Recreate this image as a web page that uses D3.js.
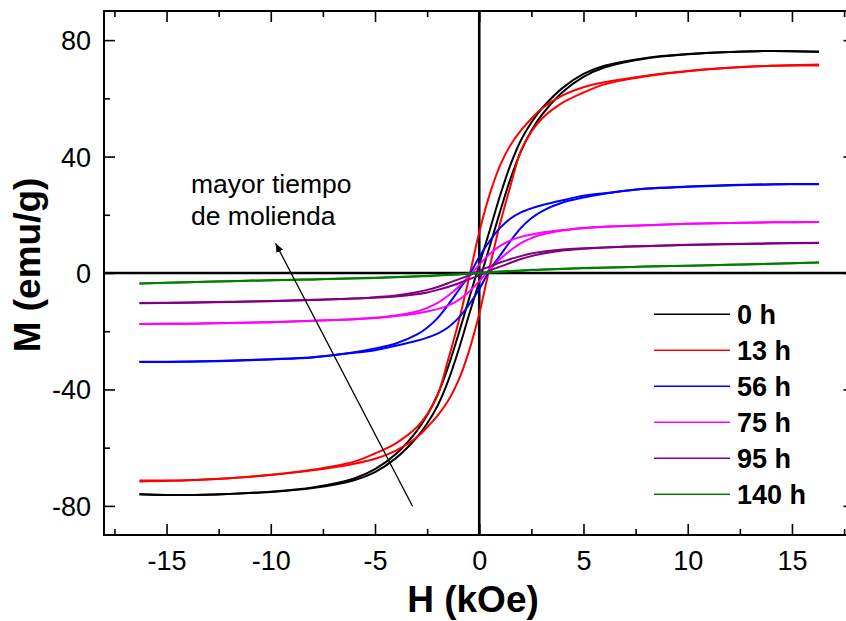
<!DOCTYPE html>
<html><head><meta charset="utf-8">
<script src="https://cdn.jsdelivr.net/npm/d3@7"></script>
<style>
body{margin:0;background:#fff}
svg{display:block}
text{font-family:"Liberation Sans",Arial,Helvetica,sans-serif;fill:#000}
</style>
</head><body>
<svg id="chart" width="846" height="621"></svg>
<script>
// ---------- data ----------
const fieldDesc = [16.3,14,12,10,8,6,5,4,3,2.5,2,1.5,1,0.5,0,-0.5,-1,-1.5,-2,-2.5,-3,-4,-5,-6,-8,-10,-12,-14,-16.3];
const fieldAsc  = [-16.3,-14,-12,-10,-8,-6,-5,-4,-3,-2.5,-2,-1.5,-1,-0.5,0,0.5,1,1.5,2,2.5,3,4,5,6,8,10,12,14,16.3];

const labels = ["0 h","13 h","56 h","75 h","95 h","140 h"];
const colors = ["#000000","#ff0000","#0000ff","#ff00ff","#800080","#008000"];

const m0Desc   = [76.0,76.3,75.9,75.2,73.9,71.2,68.4,63.6,56.5,51.7,45.6,37.2,26.6,14.6,2.9,-9.1,-21.1,-32.4,-41.8,-48.9,-54.3,-62.2,-67.4,-70.6,-73.7,-75.1,-75.9,-76.3,-76.0];
const m0Asc    = [-76.0,-76.3,-75.9,-75.2,-73.9,-71.2,-68.4,-63.6,-56.5,-51.7,-45.6,-37.2,-26.6,-14.6,-2.9,9.1,21.1,32.4,41.8,48.9,54.3,62.2,67.4,70.6,73.7,75.1,75.9,76.3,76.0];
const m13Desc  = [71.3,71.2,70.5,69.4,67.8,65.5,63.8,61,56.5,53,49,44,37,27,14,-2,-17,-30,-42,-48.5,-53,-58.5,-62,-64.8,-67.6,-69.3,-70.5,-71.2,-71.6];
const m13Asc   = [-71.3,-71.2,-70.5,-69.4,-67.8,-65.5,-63.8,-61,-56.5,-53,-49,-44,-37,-27,-14,2,17,30,42,48.5,53,58.5,62,64.8,67.6,69.3,70.5,71.2,71.6];
const m56Desc  = [30.5,30.4,30.1,29.6,28.9,27.4,26.5,25.0,23.3,22.2,20.8,18.7,15.5,11,5.5,-1,-6,-11,-15.5,-18.8,-21.2,-24.2,-25.9,-27.2,-29,-29.7,-30.2,-30.5,-30.6];
const m56Asc   = [-30.5,-30.4,-30.1,-29.6,-28.9,-27.4,-26.5,-25.0,-23.3,-22.2,-20.8,-18.7,-15.5,-11,-5.5,1,6,11,15.5,18.8,21.2,24.2,25.9,27.2,29,29.7,30.2,30.5,30.6];
const m75Desc  = [17.5,17.4,17.2,16.9,16.4,15.9,15.5,14.8,13.9,13.2,12.4,11.2,9.3,6.5,2.8,-1.2,-4.8,-7.8,-10.3,-12,-13.2,-14.6,-15.4,-15.9,-16.4,-16.9,-17.2,-17.4,-17.5];
const m75Asc   = [-17.5,-17.4,-17.2,-16.9,-16.4,-15.9,-15.5,-14.8,-13.9,-13.2,-12.4,-11.2,-9.3,-6.5,-2.8,1.2,4.8,7.8,10.3,12,13.2,14.6,15.4,15.9,16.4,16.9,17.2,17.4,17.5];
const m95Desc  = [10.3,10.1,9.9,9.6,9.2,8.8,8.5,8.1,7.3,6.7,5.8,4.8,3.6,2.2,0.8,-0.8,-2.2,-3.5,-4.8,-5.8,-6.6,-7.7,-8.3,-8.8,-9.3,-9.7,-10,-10.2,-10.4];
const m95Asc   = [-10.3,-10.1,-9.9,-9.6,-9.2,-8.8,-8.5,-8.1,-7.3,-6.7,-5.8,-4.8,-3.6,-2.2,-0.8,0.8,2.2,3.5,4.8,5.8,6.6,7.7,8.3,8.8,9.3,9.7,10,10.2,10.4];
const m140Desc = [3.6,3.2,2.8,2.5,2.2,1.9,1.7,1.5,1.2,1.1,0.9,0.7,0.5,0.3,0.1,-0.2,-0.4,-0.6,-0.8,-1.0,-1.1,-1.4,-1.6,-1.8,-2.2,-2.5,-2.8,-3.2,-3.6];
const m140Asc  = [-3.6,-3.2,-2.8,-2.5,-2.2,-1.9,-1.7,-1.5,-1.2,-1.1,-0.9,-0.7,-0.5,-0.3,-0.1,0.2,0.4,0.6,0.8,1.0,1.1,1.4,1.6,1.8,2.2,2.5,2.8,3.2,3.6];

const descBranches = [m0Desc,m13Desc,m56Desc,m75Desc,m95Desc,m140Desc];
const ascBranches  = [m0Asc,m13Asc,m56Asc,m75Asc,m95Asc,m140Asc];

const xMajorTicks = [-15,-10,-5,0,5,10,15];
const xMinorTicks = [-17.5,-12.5,-7.5,-2.5,2.5,7.5,12.5,17.5];
const yMajorTicks = [-80,-40,0,40,80];
const yMinorTicks = [-60,-20,20,60];

const xTitle = "H (kOe)";
const yTitle = "M (emu/g)";
const noteLines = ["mayor tiempo","de molienda"];

// ---------- chart ----------
const svg = d3.select("#chart");
const x = d3.scaleLinear().domain([-18,18]).range([104,854.5]);
const y = d3.scaleLinear().domain([-90,90]).range([535,11]);
const [x0,x1] = x.range(); const [y0,y1] = y.range();
const fmt = d => String(d);

// zero lines
svg.append("line").attr("x1",x(0)).attr("x2",x(0)).attr("y1",y1).attr("y2",y0)
  .attr("stroke","#000").attr("stroke-width",2.6);
svg.append("line").attr("x1",x0).attr("x2",x1).attr("y1",y(0)).attr("y2",y(0))
  .attr("stroke","#000").attr("stroke-width",2.6);

// curves
const line = d3.line().x(d=>x(d[0])).y(d=>y(d[1])).curve(d3.curveCatmullRom.alpha(0.5));
labels.forEach((lab,i)=>{
  const desc = fieldDesc.map((h,k)=>[h,descBranches[i][k]]);
  const asc  = fieldAsc.map((h,k)=>[h,ascBranches[i][k]]);
  [desc,asc].forEach(pts=>{
    svg.append("path").attr("d",line(pts)).attr("fill","none")
      .attr("stroke",colors[i]).attr("stroke-width",2).attr("stroke-linejoin","round");
  });
});

// frame
svg.append("rect").attr("x",x0).attr("y",y1).attr("width",x1-x0).attr("height",y0-y1)
  .attr("fill","none").attr("stroke","#000").attr("stroke-width",2);

// axes (ticks inward)
const tickFont = 27;
function styleAxis(g){ g.select(".domain").remove(); g.selectAll("line").attr("stroke","#000").attr("stroke-width",1.6); }
const xb = svg.append("g").attr("transform",`translate(0,${y0})`)
  .call(d3.axisBottom(x).tickValues(xMajorTicks).tickSize(-11).tickPadding(0).tickFormat(fmt));
styleAxis(xb);
xb.selectAll("text").attr("font-size",tickFont).attr("dy",null).attr("y",35).attr("text-anchor","middle");
svg.append("g").attr("transform",`translate(0,${y0})`)
  .call(d3.axisBottom(x).tickValues(xMinorTicks).tickSize(-6).tickFormat("")).call(styleAxis);
svg.append("g").attr("transform",`translate(0,${y1})`)
  .call(d3.axisTop(x).tickValues(xMajorTicks).tickSize(-11).tickFormat("")).call(styleAxis);
svg.append("g").attr("transform",`translate(0,${y1})`)
  .call(d3.axisTop(x).tickValues(xMinorTicks).tickSize(-6).tickFormat("")).call(styleAxis);

const yl = svg.append("g").attr("transform",`translate(${x0},0)`)
  .call(d3.axisLeft(y).tickValues(yMajorTicks).tickSize(-11).tickPadding(0).tickFormat(fmt));
styleAxis(yl);
yl.selectAll("text").attr("font-size",tickFont).attr("x",-13).attr("dy","0.35em").attr("text-anchor","end");
svg.append("g").attr("transform",`translate(${x0},0)`)
  .call(d3.axisLeft(y).tickValues(yMinorTicks).tickSize(-6).tickFormat("")).call(styleAxis);
svg.append("g").attr("transform",`translate(${x1},0)`)
  .call(d3.axisRight(y).tickValues(yMajorTicks).tickSize(-11).tickFormat("")).call(styleAxis);
svg.append("g").attr("transform",`translate(${x1},0)`)
  .call(d3.axisRight(y).tickValues(yMinorTicks).tickSize(-6).tickFormat("")).call(styleAxis);

// axis titles
svg.append("text").attr("x",473).attr("y",612).attr("text-anchor","middle")
  .attr("font-size",37).attr("font-weight","bold").text(xTitle);
svg.append("text").attr("transform","translate(40,265) rotate(-90)").attr("text-anchor","middle")
  .attr("font-size",37).attr("font-weight","bold").text(yTitle);

// legend
const leg = svg.append("g");
labels.forEach((lab,i)=>{
  const ly = 314.3 + i*36;
  leg.append("line").attr("x1",654).attr("x2",730).attr("y1",ly).attr("y2",ly)
    .attr("stroke",colors[i]).attr("stroke-width",1.6);
  leg.append("text").attr("x",737).attr("y",ly).attr("dy","0.36em")
    .attr("font-size",27).attr("font-weight","bold").text(lab);
});

// annotation
noteLines.forEach((t,i)=>{
  svg.append("text").attr("x",191).attr("y",193+i*32).attr("font-size",26.5).text(t);
});
svg.append("defs").append("marker").attr("id","ah").attr("viewBox","0 0 10 10")
  .attr("refX",10).attr("refY",5).attr("markerWidth",9).attr("markerHeight",9)
  .attr("markerUnits","userSpaceOnUse").attr("orient","auto")
  .append("path").attr("d","M0,1 L10,5 L0,9 Z").attr("fill","#000");
svg.append("line").attr("x1",x(-3.2)).attr("y1",y(-80.1)).attr("x2",x(-9.77)).attr("y2",y(10.2))
  .attr("stroke","#000").attr("stroke-width",1.3).attr("marker-end","url(#ah)");
</script>
</body></html>
